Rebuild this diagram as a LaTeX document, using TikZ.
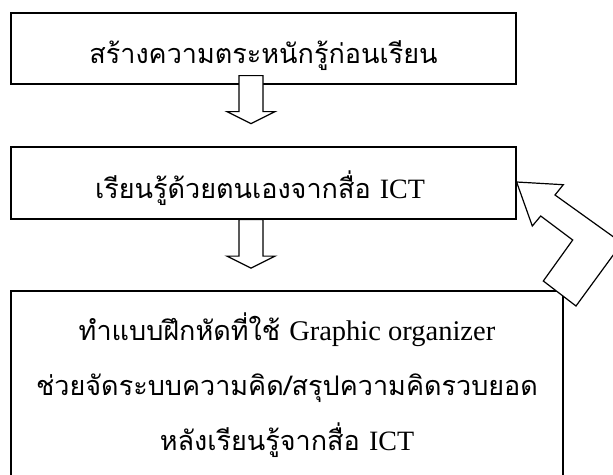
\documentclass[tikz,border=0pt]{standalone}
\usepackage{fontspec}
\setmainfont{Liberation Serif}
\newfontfamily\thai[Script=Thai]{Loma}
\usetikzlibrary{calc}

\tikzset{
  box/.style={draw,line width=1.2pt,inner sep=0pt},
  blockarr/.style={draw,fill=white,line width=1.2pt,line join=miter},
  txt/.style={anchor=base,inner sep=0pt}
}
\newcommand{\thaitxt}{\thai\fontsize{27}{27}\selectfont}
\newcommand{\ict}{{\rmfamily\fontsize{28}{28}\selectfont ICT}}
\newcommand{\eng}{\fontsize{28.5}{28.5}\selectfont}
% down block arrow: #1 top of shaft, #2 tip
\newcommand{\downblock}[2]{%
  \draw[blockarr] ($(#1)+(-12,0)$) -- ($(#2)+(-12,-12)$) -- ($(#2)+(-24,-12)$) --
    (#2) -- ($(#2)+(24,-12)$) -- ($(#2)+(12,-12)$) -- ($(#1)+(12,0)$) -- cycle;}

\begin{document}
\begin{tikzpicture}[x=1pt,y=-1pt]
  \useasboundingbox (0,0) rectangle (613,474);
  \clip (0,0) rectangle (613,474);
  % boxes
  \node[box,minimum width=505pt,minimum height=71pt] (aware) at (263.5,48.5) {};
  \node[box,minimum width=505pt,minimum height=72pt] (self) at (263.5,183) {};
  \node[box,minimum width=552pt,minimum height=189pt] (practice) at (287,385.5) {};
  % texts
  \node[txt] (awaretxt) at (263.5,63) {\thaitxt สร้างความตระหนักรู้ก่อนเรียน};
  \node[txt] (selftxt) at (260,198) {\thaitxt เรียนรู้ด้วยตนเองจากสื่อ \ict};
  \node[txt] (prline1) at (287,340) {\thaitxt ทำแบบฝึกหัดที่ใช้ {\rmfamily\eng Graphic organizer}};
  \node[txt] (prline2) at (287,395) {\thaitxt ช่วยจัดระบบความคิด/สรุปความคิดรวบยอด};
  \node[txt] (prline3) at (287,450) {\thaitxt หลังเรียนรู้จากสื่อ \ict};
  % down arrows
  \coordinate (a1top) at ($(aware.south)+(-12.5,-9)$);
  \coordinate (a1tip) at ($(a1top)+(0,48)$);
  \downblock{a1top}{a1tip}
  \coordinate (a2top) at ($(self.south)+(-12.5,0)$);
  \coordinate (a2tip) at ($(a2top)+(0,48.5)$);
  \downblock{a2top}{a2tip}
  % bent feedback arrow
  \coordinate (fbtip) at ($(self.east)+(0,-1)$);
  \draw[blockarr] (fbtip) -- (563.3,184.7) -- (555,195) -- (622,243) -- (576,306) --
    (543.3,281) -- (572.7,240) -- (540.7,216) -- (532.3,226) -- cycle;
\end{tikzpicture}
\end{document}
